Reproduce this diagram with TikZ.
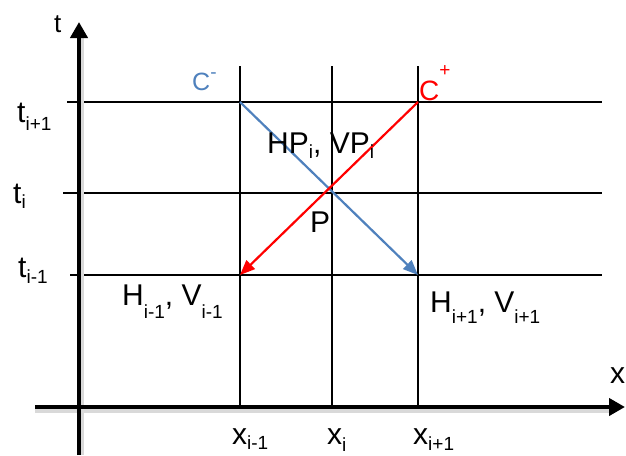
\documentclass[tikz,border=0pt]{standalone}
\usepackage{fontspec}
\setmainfont{Liberation Sans}
\usetikzlibrary{arrows.meta}
\definecolor{cblue}{HTML}{4F81BD}
\definecolor{cred}{HTML}{FF0000}
\newcommand{\sbs}[2][6pt]{\raisebox{-#1}{\fontsize{19}{19}\selectfont #2}}
\newcommand{\sps}[2][10pt]{\raisebox{#1}{\fontsize{19}{19}\selectfont #2}}
\begin{document}
\begin{tikzpicture}[x=1pt,y=-1pt,
  axis/.style={line width=4pt, -{Triangle[length=16pt,width=17pt]}},
  shadowline/.style={line width=5pt, draw=black!15},
  gridline/.style={line width=2.2pt},
  charline/.style={line width=2.2pt,-{Triangle[length=15pt,width=12pt]}},
  lbl/.style={anchor=base west, inner sep=0pt, font=\fontsize{30}{30}\selectfont},
  ]
\useasboundingbox[fill=white] (0,0) rectangle (626,455);
% coordinates
\coordinate (tb) at (79,455);
\coordinate (tt) at (79,22);
\coordinate (xl) at (35,407);
\coordinate (xr) at (625,407);
\coordinate (h1l) at (67,102);  \coordinate (h1r) at (602,102);
\coordinate (h2l) at (63,193);  \coordinate (h2r) at (602,193);
\coordinate (h3l) at (70,275);  \coordinate (h3r) at (602,275);
\coordinate (v1t) at (240,66);  \coordinate (v1b) at (240,407);
\coordinate (v2t) at (332,66);  \coordinate (v2b) at (332,407);
\coordinate (v3t) at (418,66);  \coordinate (v3b) at (418,407);
\coordinate (A) at (240,102);
\coordinate (B) at (418,102);
\coordinate (C) at (240,275);
\coordinate (D) at (418,275);
% grid
\draw[gridline] (h1l) -- (h1r);
\draw[gridline] (h2l) -- (h2r);
\draw[gridline] (h3l) -- (h3r);
\draw[gridline] (v1t) -- (v1b);
\draw[gridline] (v2t) -- (v2b);
\draw[gridline] (v3t) -- (v3b);
% axes
\draw[shadowline] ([shift={(2,0)}]tb) -- ([shift={(2,12)}]tt);
\draw[shadowline] ([shift={(0,3)}]xl) -- ([shift={(-12,3)}]xr);
\draw[axis] (tb) -- (tt);
\draw[axis] (xl) -- (xr);
% characteristics
\draw[charline, cblue] (A) -- (D);
\draw[charline, cred] (B) -- (C);
% labels
\node[lbl, font=\fontsize{26}{26}\selectfont] (lt) at (54,32) {t};
\node[lbl] (lx) at (610,383) {x};
\node[lbl] (t1) at (17,122) {t\sbs[8pt]{i+1}};
\node[lbl] (t2) at (13,203) {t\sbs[5pt]{i}};
\node[lbl] (t3) at (18,277) {t\sbs[6pt]{i-1}};
\node[lbl] (x1) at (232,444) {x\sbs[5pt]{i-1}};
\node[lbl] (x2) at (327,444) {x\sbs[7pt]{i}};
\node[lbl] (x3) at (413,444) {x\sbs[6pt]{i+1}};
\node[lbl] (hm) at (122,305) {H\sbs[13pt]{i-1}, V\sbs[13pt]{i-1}};
\node[lbl] (hp) at (430,312) {H\sbs[11pt]{i+1}, V\sbs[11pt]{i+1}};
\node[lbl] (hpi) at (267,153) {HP\sbs[5pt]{i}, VP\sbs[5pt]{i}};
\node[lbl] (p) at (310,232) {P};
\node[lbl, text=cblue, font=\fontsize{25}{25}\selectfont] (cm) at (192,90) {C\sps[12pt]{-}};
\node[lbl, text=cred, font=\fontsize{28}{28}\selectfont] (cp) at (419,100) {C\sps[24pt]{+}};
\end{tikzpicture}
\end{document}
